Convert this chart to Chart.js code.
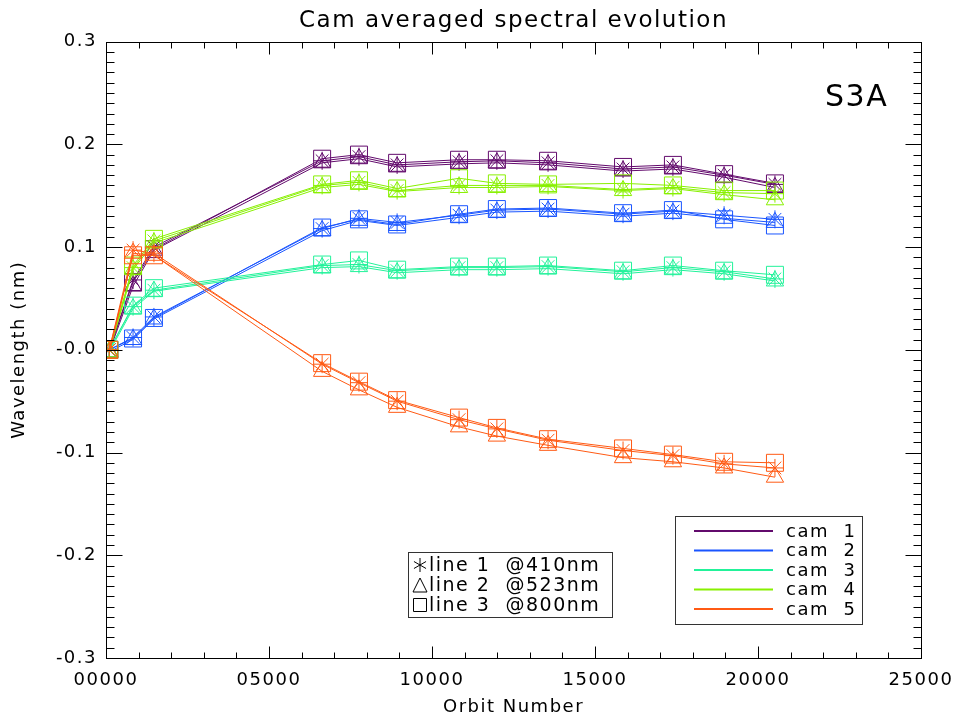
<!DOCTYPE html>
<html>
<head>
<meta charset="utf-8">
<title>Cam averaged spectral evolution</title>
<script src="https://cdn.jsdelivr.net/npm/chart.js@4.4.1/dist/chart.umd.min.js"></script>
<style>
  html, body { margin: 0; padding: 0; background: #fff; }
</style>
</head>
<body>
<canvas id="myChart" width="959" height="722"></canvas>
<script>
// Orbit numbers of the measurements
const orbits = [100, 830, 1470, 6630, 7760, 8930, 10830, 11990, 13560, 15860, 17390, 18960, 20520];

// cam 1
const cam1_410 = [0.000, 0.068, 0.100, 0.184, 0.188, 0.180, 0.183, 0.184, 0.182, 0.176, 0.178, 0.170, 0.161];
const cam1_523 = [-0.002, 0.062, 0.097, 0.182, 0.186, 0.178, 0.181, 0.182, 0.180, 0.174, 0.176, 0.168, 0.158];
const cam1_800 = [0.000, 0.066, 0.098, 0.186, 0.190, 0.182, 0.185, 0.185, 0.184, 0.178, 0.180, 0.171, 0.162];
// cam 2
const cam2_410 = [0.000, 0.012, 0.032, 0.118, 0.128, 0.124, 0.131, 0.136, 0.137, 0.132, 0.135, 0.131, 0.127];
const cam2_523 = [-0.002, 0.010, 0.030, 0.116, 0.126, 0.121, 0.129, 0.134, 0.135, 0.130, 0.133, 0.128, 0.124];
const cam2_800 = [0.000, 0.011, 0.031, 0.119, 0.127, 0.122, 0.132, 0.137, 0.138, 0.133, 0.136, 0.127, 0.121];
// cam 3
const cam3_410 = [0.000, 0.042, 0.058, 0.082, 0.083, 0.077, 0.080, 0.080, 0.081, 0.076, 0.080, 0.076, 0.069];
const cam3_523 = [-0.002, 0.040, 0.057, 0.080, 0.081, 0.075, 0.078, 0.078, 0.079, 0.074, 0.078, 0.074, 0.067];
const cam3_800 = [0.000, 0.043, 0.060, 0.083, 0.087, 0.078, 0.081, 0.081, 0.082, 0.077, 0.082, 0.077, 0.073];
// cam 4
const cam4_410 = [0.000, 0.080, 0.106, 0.160, 0.163, 0.155, 0.160, 0.160, 0.160, 0.156, 0.158, 0.153, 0.152];
const cam4_523 = [-0.002, 0.078, 0.104, 0.158, 0.161, 0.154, 0.158, 0.158, 0.159, 0.155, 0.157, 0.151, 0.146];
const cam4_800 = [0.000, 0.082, 0.108, 0.161, 0.165, 0.157, 0.167, 0.162, 0.161, 0.162, 0.160, 0.155, 0.155];
// cam 5
const cam5_410 = [0.000, 0.097, 0.094, -0.014, -0.032, -0.050, -0.068, -0.077, -0.088, -0.098, -0.103, -0.111, -0.115];
const cam5_523 = [-0.003, 0.094, 0.092, -0.021, -0.039, -0.056, -0.075, -0.084, -0.093, -0.105, -0.109, -0.115, -0.124];
const cam5_800 = [0.000, 0.092, 0.092, -0.013, -0.031, -0.049, -0.066, -0.076, -0.087, -0.096, -0.102, -0.109, -0.110];

const camNames = ["cam  1", "cam  2", "cam  3", "cam  4", "cam  5"];
const camColors = ["#620a6c", "#1a55ff", "#22f29a", "#88f000", "#ff5a14"];
const lineNames = ["line 1  @410nm", "line 2  @523nm", "line 3  @800nm"];
const yTickLabels = ["-0.3", "-0.2", "-0.1", "-0.0", "0.1", "0.2", "0.3"];

const FONT = '"DejaVu Sans", sans-serif';
const SPACING = "1.5px";

const camSeries = [
  [cam1_410, cam1_523, cam1_800],
  [cam2_410, cam2_523, cam2_800],
  [cam3_410, cam3_523, cam3_800],
  [cam4_410, cam4_523, cam4_800],
  [cam5_410, cam5_523, cam5_800],
];
const markerStyles = ["star", "triangle", "rect"];
const markerRadius = [9, 10, 12];

const datasets = [];
camSeries.forEach((lines, c) => {
  lines.forEach((vals, l) => {
    datasets.push({
      label: camNames[c] + " " + lineNames[l],
      data: orbits.map((o, i) => ({ x: o, y: vals[i] })),
      borderColor: camColors[c],
      backgroundColor: "rgba(0,0,0,0)",
      borderWidth: 1,
      pointStyle: markerStyles[l],
      pointRadius: markerRadius[l],
      pointBorderWidth: 1,
      pointBorderColor: camColors[c],
      pointBackgroundColor: "rgba(0,0,0,0)",
      tension: 0,
      order: 5 - c,
    });
  });
});

// wider letter spacing, closer to the stroke font of the original
const spacing = {
  id: "spacing",
  beforeLayout(chart) { chart.ctx.letterSpacing = SPACING; },
  beforeDraw(chart) { chart.ctx.letterSpacing = SPACING; },
};

// plot box with inward major/minor ticks on all four sides
const frameTicks = {
  id: "frameTicks",
  afterDatasetsDraw(chart) {
    const { ctx, chartArea: a, scales: { x, y } } = chart;
    const L = Math.round(a.left) + 0.5, R = Math.round(a.right) + 0.5;
    const T = Math.round(a.top) + 0.5, B = Math.round(a.bottom) + 0.5;
    ctx.save();
    ctx.strokeStyle = "#000";
    ctx.lineWidth = 1;
    ctx.strokeRect(L, T, R - L, B - T);
    ctx.beginPath();
    for (let v = 0; v <= 25000; v += 1000) {
      const px = Math.round(x.getPixelForValue(v)) + 0.5;
      const len = v % 5000 === 0 ? 12 : 6;
      ctx.moveTo(px, B); ctx.lineTo(px, B - len);
      ctx.moveTo(px, T); ctx.lineTo(px, T + len);
    }
    for (let i = -30; i <= 30; i++) {
      const py = Math.round(y.getPixelForValue(i / 100)) + 0.5;
      const len = i % 10 === 0 ? 16 : 8;
      ctx.moveTo(L, py); ctx.lineTo(L + len, py);
      ctx.moveTo(R, py); ctx.lineTo(R - len, py);
    }
    ctx.stroke();
    ctx.restore();
  },
};

// legends and the S3A tag
const boxes = {
  id: "boxes",
  afterDraw(chart) {
    const ctx = chart.ctx;
    ctx.save();
    ctx.letterSpacing = SPACING;
    ctx.fillStyle = "#000";
    ctx.strokeStyle = "#000";
    ctx.lineWidth = 1;
    ctx.textBaseline = "middle";
    ctx.textAlign = "left";

    ctx.font = "30px " + FONT;
    ctx.fillText("S3A", 825, 98);

    // marker legend
    ctx.strokeStyle = "#333";
    ctx.strokeRect(408.5, 552.5, 204, 65);
    ctx.strokeStyle = "#000";
    ctx.font = "19px " + FONT;
    const rows1 = [565, 585, 605];
    rows1.forEach((ry, i) => {
      const mx = 420, r = 7;
      ctx.beginPath();
      if (i === 0) {
        for (let k = 0; k < 3; k++) {
          const ang = Math.PI / 2 + k * Math.PI / 3;
          ctx.moveTo(mx - Math.cos(ang) * r, ry - Math.sin(ang) * r);
          ctx.lineTo(mx + Math.cos(ang) * r, ry + Math.sin(ang) * r);
        }
      } else if (i === 1) {
        ctx.moveTo(mx - r, ry + r);
        ctx.lineTo(mx, ry - r);
        ctx.lineTo(mx + r, ry + r);
        ctx.closePath();
      } else {
        ctx.rect(mx - r + 0.5, ry - r + 0.5, 2 * r - 1, 2 * r - 1);
      }
      ctx.stroke();
      ctx.fillText(lineNames[i], 429, ry + 1);
    });

    // camera legend
    ctx.font = "18px " + FONT;
    ctx.strokeStyle = "#333";
    ctx.strokeRect(675.5, 516.5, 187, 108);
    const rows2 = [531, 550.5, 570, 589.5, 609];
    rows2.forEach((ry, c) => {
      ctx.strokeStyle = camColors[c];
      ctx.lineWidth = 2;
      ctx.beginPath();
      ctx.moveTo(694, ry);
      ctx.lineTo(773, ry);
      ctx.stroke();
      ctx.fillText(camNames[c], 786, ry + 1);
    });
    ctx.restore();
  },
};

const config = {
  type: "line",
  data: { datasets: datasets },
  options: {
    responsive: false,
    animation: false,
    layout: { padding: { left: 0, right: 38, top: 0, bottom: 0 } },
    plugins: {
      legend: { display: false },
      tooltip: { enabled: false },
      title: {
        display: true,
        fullSize: false,
        text: "Cam averaged spectral evolution",
        color: "#000",
        font: { family: FONT, size: 23, weight: "normal" },
        padding: { top: 7, bottom: 7 },
      },
    },
    scales: {
      x: {
        type: "linear",
        min: 0,
        max: 25000,
        grid: { display: false, drawTicks: false },
        border: { display: false },
        ticks: {
          stepSize: 5000,
          autoSkip: false,
          maxRotation: 0,
          padding: 12,
          color: "#000",
          font: { family: FONT, size: 18 },
          callback: (v) => String(v).padStart(5, "0"),
        },
        title: {
          display: true,
          text: "Orbit Number",
          color: "#000",
          font: { family: FONT, size: 18 },
          padding: { top: 4, bottom: 4 },
        },
        afterFit: (scale) => {
          scale.height = 64;
          scale.paddingLeft = 0;
          scale.paddingRight = 0;
        },
      },
      y: {
        min: -0.3,
        max: 0.3,
        grid: { display: false, drawTicks: false },
        border: { display: false },
        ticks: {
          stepSize: 0.1,
          autoSkip: false,
          padding: 9,
          color: "#000",
          font: { family: FONT, size: 18 },
          callback: (v, i) => yTickLabels[i],
        },
        title: {
          display: true,
          text: "Wavelength (nm)",
          color: "#000",
          font: { family: FONT, size: 18 },
          padding: 9,
        },
        afterFit: (scale) => {
          scale.width = 106;
          scale.paddingTop = 0;
          scale.paddingBottom = 0;
        },
      },
    },
  },
  plugins: [spacing, frameTicks, boxes],
};

myChart = new Chart(document.getElementById("myChart"), config);
</script>
</body>
</html>
